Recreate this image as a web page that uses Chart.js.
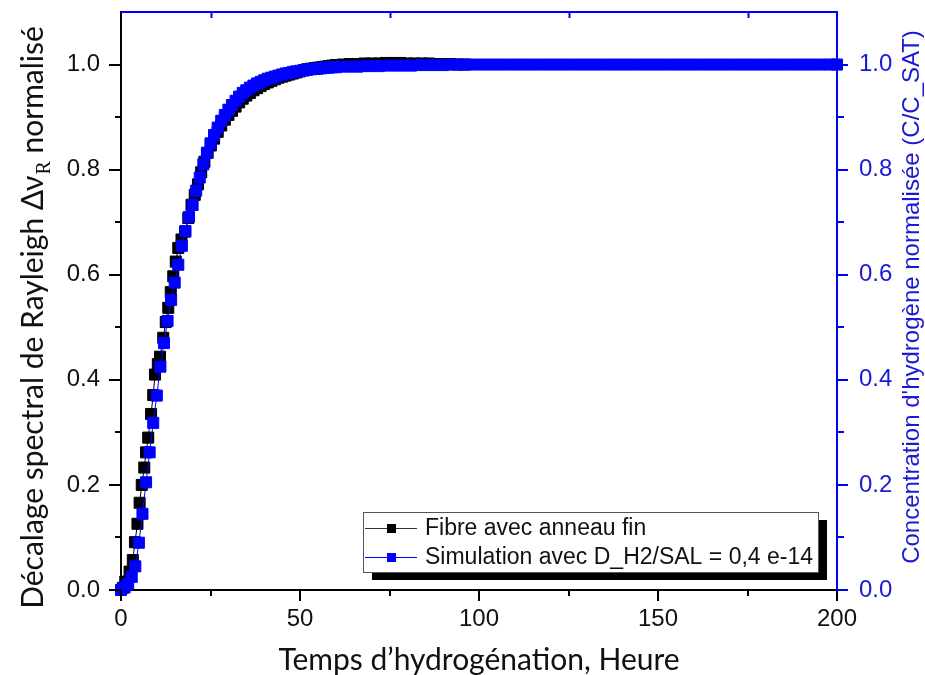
<!DOCTYPE html>
<html>
<head>
<meta charset="utf-8">
<script src="https://cdn.jsdelivr.net/npm/chart.js@4"></script>
<style>
  html, body { margin: 0; padding: 0; background: #fff; }
  #wrap { width: 925px; height: 675px; position: relative; }
</style>
</head>
<body>
<div id="wrap"><canvas id="chart" width="925" height="675"></canvas></div>
<script>
// measured data : fibre (black)
var fibreTime = [0.5, 1.2, 2.4, 3.3, 3.9, 4.6, 5.2, 5.8, 6.5, 7.0, 7.6, 8.4, 9.0, 9.5, 10.3, 10.9, 11.8, 12.5, 13.2, 13.9,
  14.6, 15.3, 16.0, 16.9, 17.9, 18.8, 19.7, 20.6, 21.5, 22.4, 23.3, 24.2, 25.1, 26.0, 27.0, 28.0, 29.0, 30.0,
  31, 32, 33, 34, 35, 36, 37, 38, 39, 40, 41, 42, 43, 44, 45, 46, 47, 48, 49, 50, 51, 52, 53, 54, 55, 56, 57, 58, 59, 60,
  62, 64, 66, 68, 70, 72, 74, 76, 78, 80, 82, 84, 86, 88, 90, 92, 94, 96];
var fibreValue = [0.004, 0.016, 0.035, 0.057, 0.091, 0.126, 0.166, 0.200, 0.233, 0.262, 0.290, 0.335, 0.371, 0.410, 0.430, 0.444, 0.480, 0.510, 0.537, 0.567,
  0.597, 0.625, 0.651, 0.667, 0.682, 0.708, 0.733, 0.752, 0.772, 0.795, 0.815, 0.832, 0.846, 0.859, 0.872, 0.884, 0.895, 0.904,
  0.912, 0.920, 0.928, 0.935, 0.941, 0.946, 0.951, 0.955, 0.959, 0.963, 0.966, 0.969, 0.972, 0.975, 0.977, 0.979, 0.981, 0.983, 0.985, 0.987,
  0.989, 0.991, 0.992, 0.993, 0.994, 0.995, 0.996, 0.997, 0.998, 0.999,
  1.000, 1.001, 1.001, 1.002, 1.002, 1.002, 1.003, 1.003, 1.003, 1.002, 1.002, 1.002, 1.002, 1.001, 1.001, 1.001, 1.000, 1.000];

// simulation (blue)
var simTime = [0, 1, 2, 3, 4, 5, 6, 7, 8, 9, 10, 11, 12, 13, 14, 15, 16, 17, 18, 19, 20,
  21, 22, 23, 24, 25, 26, 27, 28, 29, 30, 31, 32, 33, 34, 35, 36, 37, 38, 39, 40,
  41, 42, 43, 44, 45, 46, 47, 48, 49, 50, 51, 52, 53, 54, 55, 56, 57, 58, 59, 60,
  63, 66, 69, 72, 75, 78, 81, 84, 87, 90, 93, 96, 99, 102, 105, 108, 111, 114, 117, 120,
  123, 126, 129, 132, 135, 138, 141, 144, 147, 150, 153, 156, 159, 162, 165, 168, 171, 174, 177, 180,
  183, 186, 189, 192, 195, 198, 200];
var simValue = [0.000, 0.005, 0.012, 0.025, 0.045, 0.090, 0.145, 0.205, 0.262, 0.318, 0.370, 0.425, 0.470, 0.512, 0.552, 0.585, 0.619, 0.655, 0.683, 0.710, 0.733,
  0.760, 0.785, 0.810, 0.832, 0.850, 0.866, 0.880, 0.893, 0.904, 0.914, 0.923, 0.931, 0.939, 0.946, 0.951, 0.956, 0.960, 0.964, 0.967, 0.970,
  0.973, 0.975, 0.977, 0.979, 0.981, 0.983, 0.984, 0.986, 0.987, 0.988, 0.989, 0.990, 0.991, 0.992, 0.992, 0.993, 0.994, 0.994, 0.995, 0.995,
  0.996, 0.996, 0.997, 0.997, 0.998, 0.998, 0.998, 0.999, 0.999, 0.999, 1.000, 1.000, 1.000, 1.000, 1.000, 1.000, 1.000, 1.000, 1.000, 1.000,
  1.000, 1.000, 1.000, 1.000, 1.000, 1.000, 1.000, 1.000, 1.000, 1.000, 1.000, 1.000, 1.000, 1.000, 1.000, 1.000, 1.000, 1.000, 1.000, 1.000,
  1.000, 1.000, 1.000, 1.000, 1.000, 1.000, 1.000];

var xTicks = [0, 50, 100, 150, 200];
var xMinorTicks = [25, 75, 125, 175];
var yTicks = [0.0, 0.2, 0.4, 0.6, 0.8, 1.0];
var yMinorTicks = [0.1, 0.3, 0.5, 0.7, 0.9];

var seriesLabels = ['Fibre avec anneau fin', 'Simulation avec D_H2/SAL = 0,4 e-14'];
var xTitle = 'Temps d\u2019hydrog\u00e9nation, Heure';
var yTitleMain = 'D\u00e9calage spectral de Rayleigh \u0394\u03bd';
var yTitleSub = 'R';
var yTitleEnd = ' normalis\u00e9';
var y2Title = 'Concentration d\'hydrog\u00e8ne normalis\u00e9e (C/C_SAT)';

var BLUE = '#0000ff';

function toXY(xs, ys) {
  return xs.map(function (x, i) { return {x: x, y: ys[i]}; });
}

Chart.defaults.font.family = '"Liberation Sans", Arial, sans-serif';
Chart.defaults.font.size = 24;

// ticks, top axis, titles and legend drawn on the canvas
var decorPlugin = {
  id: 'decor',
  afterDraw: function (chart) {
    var ctx = chart.ctx;
    var a = chart.chartArea;
    var sx = chart.scales.x, sy = chart.scales.y, sy2 = chart.scales.y2;
    ctx.save();

    // top axis (blue) with inward minor ticks
    ctx.strokeStyle = BLUE;
    ctx.lineWidth = 2;
    ctx.beginPath();
    ctx.moveTo(a.left, a.top);
    ctx.lineTo(a.right + 1, a.top);
    ctx.stroke();
    xMinorTicks.forEach(function (v) {
      var px = Math.round(sx.getPixelForValue(v)) + 0.5;
      ctx.beginPath(); ctx.moveTo(px, a.top); ctx.lineTo(px, a.top + 6); ctx.stroke();
    });

    // bottom ticks
    ctx.strokeStyle = '#000';
    ctx.lineWidth = 2;
    xTicks.forEach(function (v) {
      var px = Math.round(sx.getPixelForValue(v));
      ctx.beginPath(); ctx.moveTo(px, a.bottom); ctx.lineTo(px, a.bottom + 11); ctx.stroke();
    });
    xMinorTicks.forEach(function (v) {
      var px = Math.round(sx.getPixelForValue(v));
      ctx.beginPath(); ctx.moveTo(px, a.bottom); ctx.lineTo(px, a.bottom + 6); ctx.stroke();
    });
    // left ticks
    yTicks.forEach(function (v) {
      var py = Math.round(sy.getPixelForValue(v));
      ctx.beginPath(); ctx.moveTo(a.left, py); ctx.lineTo(a.left - 12, py); ctx.stroke();
    });
    yMinorTicks.forEach(function (v) {
      var py = Math.round(sy.getPixelForValue(v));
      ctx.beginPath(); ctx.moveTo(a.left, py); ctx.lineTo(a.left - 6, py); ctx.stroke();
    });
    // right ticks
    ctx.strokeStyle = BLUE;
    yTicks.forEach(function (v) {
      var py = Math.round(sy2.getPixelForValue(v));
      ctx.beginPath(); ctx.moveTo(a.right, py); ctx.lineTo(a.right + 11, py); ctx.stroke();
    });
    yMinorTicks.forEach(function (v) {
      var py = Math.round(sy2.getPixelForValue(v));
      ctx.beginPath(); ctx.moveTo(a.right, py); ctx.lineTo(a.right + 7, py); ctx.stroke();
    });

    // x title
    ctx.fillStyle = '#111';
    ctx.font = '30px Lato, "Open Sans", sans-serif';
    ctx.textAlign = 'center';
    ctx.textBaseline = 'middle';
    ctx.fillText(xTitle, (a.left + a.right) / 2, 660);

    // left title with subscript
    ctx.save();
    ctx.translate(33, 318);
    ctx.rotate(-Math.PI / 2);
    var mainFont = '30px Lato, "Open Sans", sans-serif';
    var subFont = '20px "Liberation Serif", serif';
    ctx.font = mainFont;
    var w1 = ctx.measureText(yTitleMain).width;
    var w3 = ctx.measureText(yTitleEnd).width;
    ctx.font = subFont;
    var w2 = ctx.measureText(yTitleSub).width;
    var x0 = -(w1 + w2 + w3) / 2;
    ctx.textAlign = 'left';
    ctx.textBaseline = 'alphabetic';
    ctx.font = mainFont;
    ctx.fillText(yTitleMain, x0, 10);
    ctx.font = subFont;
    ctx.fillText(yTitleSub, x0 + w1 + 1, 17);
    ctx.font = mainFont;
    ctx.fillText(yTitleEnd, x0 + w1 + w2 + 1, 10);
    ctx.restore();

    // right title
    ctx.save();
    ctx.translate(912, 297);
    ctx.rotate(-Math.PI / 2);
    ctx.fillStyle = '#1a1ad6';
    ctx.font = '24px "Liberation Sans", Arial, sans-serif';
    ctx.textAlign = 'center';
    ctx.textBaseline = 'middle';
    ctx.fillText(y2Title, 0, 0);
    ctx.restore();

    // legend box with shadow
    var lx = 363, ly = 512, lw = 455, lh = 60;
    ctx.fillStyle = '#000';
    ctx.fillRect(lx + 9, ly + 8, lw, lh);
    ctx.fillStyle = '#fff';
    ctx.fillRect(lx, ly, lw, lh);
    ctx.strokeStyle = '#555';
    ctx.lineWidth = 1;
    ctx.strokeRect(lx + 0.5, ly + 0.5, lw, lh);
    var colors = ['#000', BLUE];
    var rows = [528, 557];
    ctx.font = '23px "Liberation Sans", Arial, sans-serif';
    ctx.textAlign = 'left';
    ctx.textBaseline = 'middle';
    seriesLabels.forEach(function (lab, i) {
      var cy = rows[i];
      ctx.strokeStyle = i === 0 ? '#333' : BLUE;
      ctx.lineWidth = 1;
      ctx.beginPath(); ctx.moveTo(lx + 2, cy + 0.5); ctx.lineTo(lx + 54, cy + 0.5); ctx.stroke();
      ctx.fillStyle = colors[i];
      ctx.fillRect(lx + 24, cy - 4, 9, 9);
      ctx.fillStyle = '#111';
      ctx.fillText(lab, lx + 62, cy + 1);
    });

    ctx.restore();
  }
};

function noPad(s) { s.paddingTop = 0; s.paddingBottom = 0; s.paddingLeft = 0; s.paddingRight = 0; }

var ctx = document.getElementById('chart').getContext('2d');
var chart = new Chart(ctx, {
  type: 'scatter',
  data: {
    datasets: [{
      label: seriesLabels[0],
      data: toXY(fibreTime, fibreValue),
      showLine: true,
      borderColor: '#000',
      backgroundColor: '#000',
      borderWidth: 1,
      pointStyle: 'rect',
      pointRadius: 7.8,
      pointBorderWidth: 1,
      order: 1,
      clip: false,
      yAxisID: 'y'
    }, {
      label: seriesLabels[1],
      data: toXY(simTime, simValue),
      showLine: true,
      borderColor: BLUE,
      backgroundColor: BLUE,
      borderWidth: 1,
      pointStyle: 'rect',
      pointRadius: 7.8,
      pointBorderWidth: 1,
      order: 0,
      clip: false,
      yAxisID: 'y'
    }]
  },
  options: {
    responsive: false,
    animation: false,
    events: [],
    layout: { padding: { top: 12, left: 0, right: 0, bottom: 0 } },
    plugins: { legend: { display: false }, tooltip: { enabled: false } },
    scales: {
      x: {
        type: 'linear', position: 'bottom', min: 0, max: 200,
        afterBuildTicks: function (s) { s.ticks = xTicks.map(function (v) { return {value: v}; }); },
        afterFit: function (s) { s.height = 85; noPad(s); },
        grid: { display: false, drawTicks: false },
        border: { display: true, color: '#000', width: 2 },
        ticks: { color: '#111', padding: 15, maxRotation: 0, font: { size: 24 } }
      },
      y: {
        type: 'linear', position: 'left', min: 0, max: 1.1,
        afterBuildTicks: function (s) { s.ticks = yTicks.map(function (v) { return {value: v}; }); },
        afterFit: function (s) { s.width = 121; noPad(s); },
        grid: { display: false, drawTicks: false },
        border: { display: true, color: '#000', width: 2 },
        ticks: { color: '#111', padding: 21, callback: function (v) { return v.toFixed(1); }, font: { size: 24 } }
      },
      y2: {
        type: 'linear', position: 'right', min: 0, max: 1.1,
        afterBuildTicks: function (s) { s.ticks = yTicks.map(function (v) { return {value: v}; }); },
        afterFit: function (s) { s.width = 88; noPad(s); },
        grid: { display: false, drawTicks: false },
        border: { display: true, color: BLUE, width: 2 },
        ticks: { color: '#1a1ad6', padding: 22, callback: function (v) { return v.toFixed(1); }, font: { size: 24 } }
      }
    }
  },
  plugins: [decorPlugin]
});
</script>
</body>
</html>
